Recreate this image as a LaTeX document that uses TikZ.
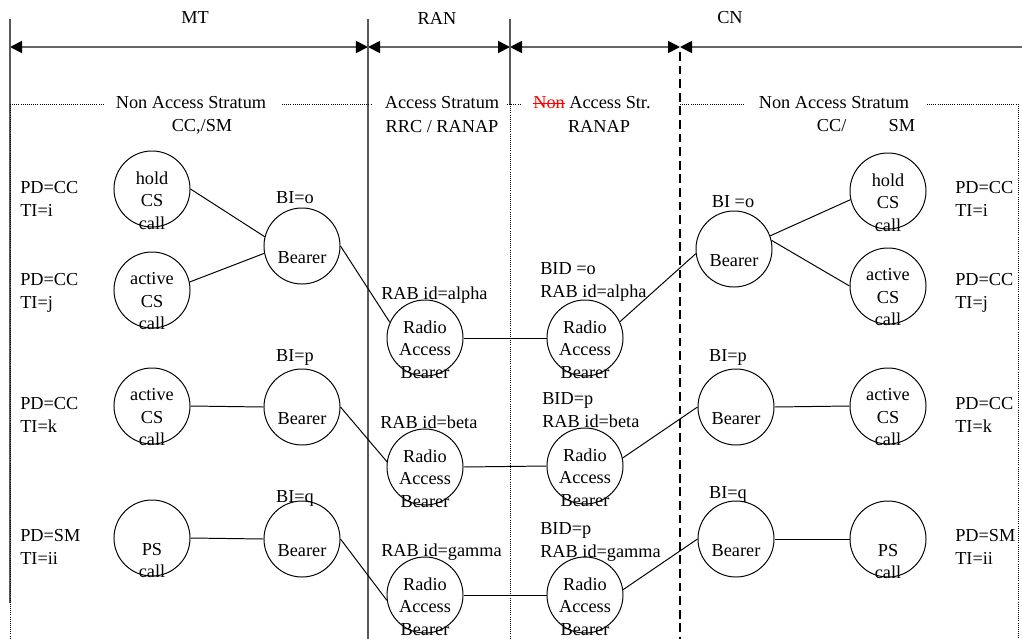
\documentclass[tikz,border=0pt]{standalone}
\usepackage{fontspec}
\setmainfont{Liberation Serif}
\usetikzlibrary{arrows.meta}
\newcommand{\strk}[1]{\setbox0\hbox{#1}\rlap{\rule[0.28em]{\wd0}{0.06em}}\box0}
\tikzset{>={Triangle[length=0.3cm,width=0.3cm,color=black]}}
\tikzset{
  bub/.style={draw, circle, minimum size=1.9cm, inner sep=0pt, line width=0.7pt},
  intxt/.style={align=center, inner sep=0pt, yshift=-8pt},
  lbl/.style={inner sep=0pt},
  side/.style={align=left, anchor=west, inner sep=0pt},
  frame/.style={black!65, line width=0.8pt},
  dots/.style={dash pattern=on 0.5pt off 1pt, line width=0.6pt},
  span/.style={black!60, line width=1.3pt, <->},
  link/.style={line width=0.7pt},
}

\begin{document}
\begin{tikzpicture}[x=0.025cm, y=-0.025cm, every node/.style={font=\fontsize{13}{16}\selectfont}]
        \useasboundingbox (0,0) rectangle (1022,639);
        %%%% domains
        \node (mt) at (195,18) {MT};
        \node (ran) at (437,18) {RAN};
        \node (cn) at (730,18) {CN};
        \coordinate (mtL) at (10,47);
        \coordinate (mtR) at (368,47);
        \coordinate (ranR) at (510,47);
        \coordinate (cnL) at (680,47);
        \coordinate (cnR) at (1022,47);
        \draw[span] (mtL) -- (mtR);
        \draw[span] (mtR) -- (ranR);
        \draw[span] (ranR) -- (cnL);
        \draw[span,<-] (cnL) -- (cnR);
        \draw[frame] (10,19) -- (10,603);
        \draw[frame] (368,19) -- (368,639);
        \draw[frame] (510,19) -- (510,104);
        \draw[line width=1.2pt, dash pattern=on 0.22cm off 0.12cm] (680,52) -- (680,639);
        %%%% strata
        \draw[dots] (10,104) -- (103,104);
        \draw[dots] (282,104) -- (372,104);
        \draw[dots] (507,104) -- (520,104);
        \draw[dots] (680,104) -- (745,104);
        \draw[dots] (927,104) -- (1018,104) -- (1018,639);
        \draw[dots] (10,104) -- (10,639);
        \draw[dots] (510,104) -- (510,639);
        \node (nas1) at (191,103) {Non Access Stratum};
        \node (ccsm1) at (202,127) {CC,/SM};
        \node (as1) at (442,103) {Access Stratum};
        \node (rrc1) at (442,127) {RRC / RANAP};
        \node (as2) at (592,103) {\textcolor{red}{\strk{Non}} Access Str.};
        \node (ranap2) at (599,126) {RANAP};
        \node (nas2) at (834,103) {Non Access Stratum};
        \node (ccsm2) at (866,126) {CC/\hspace{30pt}SM};
        %%%% MT
        \node[side] (pd1) at (20,199) {PD=CC\\TI=i};
        \node[side] (pd2) at (20,293) {PD=CC\\TI=j};
        \node[side] (pd3) at (20,415) {PD=CC\\TI=k};
        \node[side] (pd4) at (20,547) {PD=SM\\TI=ii};
        \node[bub] (hold1) at (152,189) {};
        \node[intxt] (hold1t) at (hold1) {hold\\CS\\call};
        \node[bub] (act1) at (152,290) {};
        \node[intxt] (act1t) at (act1) {active\\CS\\call};
        \node[bub] (act2) at (152,406) {};
        \node[intxt] (act2t) at (act2) {active\\CS\\call};
        \node[bub] (ps1) at (152,538) {};
        \node[intxt, yshift=-8pt] (ps1t) at (ps1) {PS\\call};
        \node[bub] (bear1) at (302,246) {};
        \node[intxt] (bear1t) at (bear1) {Bearer};
        \node[bub] (bear2) at (302,407) {};
        \node[intxt] (bear2t) at (bear2) {Bearer};
        \node[bub] (bear3) at (302,539) {};
        \node[intxt] (bear3t) at (bear3) {Bearer};
        \node[lbl] (bi1) at (295,198) {BI=o};
        \node[lbl] (bi2) at (295,357) {BI=p};
        \node[lbl] (bi3) at (295,498) {BI=q};
        %%%% RAN
        \node[bub] (rab1) at (425,338) {};
        \node[intxt] (rab1t) at (rab1) {Radio\\Access\\Bearer};
        \node[bub] (rab3) at (425,467) {};
        \node[intxt] (rab3t) at (rab3) {Radio\\Access\\Bearer};
        \node[bub] (rab5) at (425,595) {};
        \node[intxt] (rab5t) at (rab5) {Radio\\Access\\Bearer};
        \node[bub] (rab2) at (585,338) {};
        \node[intxt] (rab2t) at (rab2) {Radio\\Access\\Bearer};
        \node[bub] (rab4) at (585,466) {};
        \node[intxt] (rab4t) at (rab4) {Radio\\Access\\Bearer};
        \node[bub] (rab6) at (585,595) {};
        \node[intxt] (rab6t) at (rab6) {Radio\\Access\\Bearer};
        \node[side] (rabid1) at (381,295) {RAB id=alpha};
        \node[side] (rabid3) at (380,422) {RAB id=beta};
        \node[side] (rabid5) at (381,552) {RAB id=gamma};
        \node[side] (bid2) at (540,282) {BID =o\\RAB id=alpha};
        \node[side] (bid4) at (542,410) {BID=p\\RAB id=beta};
        \node[side] (bid6) at (540,542) {BID=p\\RAB id=gamma};
        %%%% CN
        \node[bub] (cbear1) at (734,249) {};
        \node[intxt] (cbear1t) at (cbear1) {Bearer};
        \node[bub] (cbear2) at (736,407) {};
        \node[intxt] (cbear2t) at (cbear2) {Bearer};
        \node[bub] (cbear3) at (736,539) {};
        \node[intxt] (cbear3t) at (cbear3) {Bearer};
        \node[lbl] (cbi1) at (733,202) {BI =o};
        \node[lbl] (cbi2) at (728,357) {BI=p};
        \node[lbl] (cbi3) at (728,494) {BI=q};
        \node[bub] (chold1) at (888,191) {};
        \node[intxt] (chold1t) at (chold1) {hold\\CS\\call};
        \node[bub] (cact1) at (888,286) {};
        \node[intxt] (cact1t) at (cact1) {active\\CS\\call};
        \node[bub] (cact2) at (888,406) {};
        \node[intxt] (cact2t) at (cact2) {active\\CS\\call};
        \node[bub] (cps1) at (888,539) {};
        \node[intxt, yshift=-8pt] (cps1t) at (cps1) {PS\\call};
        \node[side] (cpd1) at (955,199) {PD=CC\\TI=i};
        \node[side] (cpd2) at (955,293) {PD=CC\\TI=j};
        \node[side] (cpd3) at (955,415) {PD=CC\\TI=k};
        \node[side] (cpd4) at (955,547) {PD=SM\\TI=ii};
        %%%% links
        \draw[link] (hold1.east) -- (bear1.166);
        \draw[link] (act1.12) -- (bear1.191);
        \draw[link] (bear1.east) -- (rab1.156);
        \draw[link] (rab1.east) -- (rab2.west);
        \draw[link] (rab2.25) -- (cbear1.187);
        \draw[link] (cbear1.20) -- (chold1.193);
        \draw[link] (cbear1.13) -- (cact1.west);
        \draw[link] (act2.east) -- (bear2.west);
        \draw[link] (bear2.east) -- (rab3.172);
        \draw[link] (rab3.east) -- (rab4.west);
        \draw[link] (rab4.12) -- (cbear2.west);
        \draw[link] (cbear2.east) -- (cact2.west);
        \draw[link] (ps1.east) -- (bear3.west);
        \draw[link] (bear3.east) -- (rab5.188);
        \draw[link] (rab5.east) -- (rab6.west);
        \draw[link] (rab6.8) -- (cbear3.west);
        \draw[link] (cbear3.east) -- (cps1.west);
    \end{tikzpicture}
\end{document}
